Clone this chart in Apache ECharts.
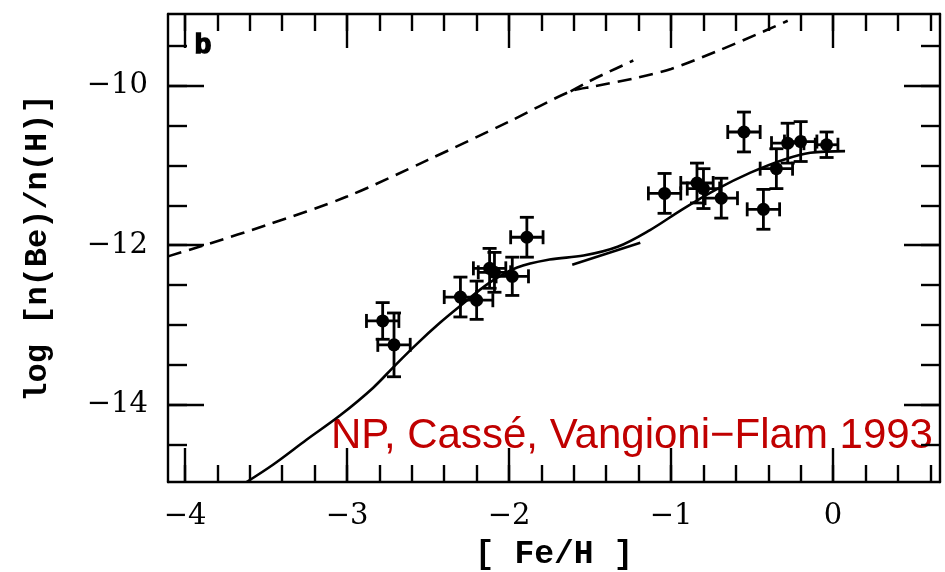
<!DOCTYPE html>
<html>
<head>
<meta charset="utf-8">
<script src="https://cdn.jsdelivr.net/npm/echarts@6/dist/echarts.min.js"></script>
<style>
  html, body { margin: 0; padding: 0; background: #fff; }
  #chart { width: 945px; height: 572px; }
</style>
</head>
<body>
<div id="chart"></div>
<script>
// Axis extents
const X_MIN = -4.105, X_MAX = 0.66;
const Y_MIN = -14.97, Y_MAX = -9.1;

// Tick positions and labels
const xMajorTicks = [-4, -3, -2, -1, 0];
const xMinorTicks = [-4.0, -3.8, -3.6, -3.4, -3.2, -3.0, -2.8, -2.6, -2.4, -2.2, -2.0,
                     -1.8, -1.6, -1.4, -1.2, -1.0, -0.8, -0.6, -0.4, -0.2, 0.0, 0.2, 0.4, 0.6];
const yMajorTicks = [-14, -12, -10];
const yMinorTicks = [-14.5, -14, -13.5, -13, -12.5, -12, -11.5, -11, -10.5, -10, -9.5];

// Stellar Be abundances: [Fe/H], log n(Be)/n(H), x error, y error
const starFeH   = [-2.78, -2.71, -2.30, -2.20, -2.12, -2.09, -1.98, -1.89,
                   -1.04, -0.84, -0.80, -0.69, -0.55, -0.43, -0.35, -0.28, -0.20, -0.04];
const starBe    = [-12.95, -13.25, -12.65, -12.69, -12.29, -12.34, -12.39, -11.90,
                   -11.35, -11.22, -11.29, -11.41, -10.58, -11.55, -11.04, -10.72, -10.70, -10.74];
const starErrX  = [0.10, 0.10, 0.10, 0.10, 0.10, 0.10, 0.10, 0.10,
                   0.10, 0.10, 0.10, 0.10, 0.10, 0.10, 0.10, 0.10, 0.10, 0.07];
const starErrY  = [0.23, 0.40, 0.25, 0.24, 0.25, 0.25, 0.24, 0.25,
                   0.25, 0.25, 0.25, 0.25, 0.25, 0.25, 0.25, 0.25, 0.25, 0.16];

// Model curves
const dashedMain = [[-4.105, -12.14], [-3.85, -11.98], [-3.5, -11.75], [-3.0, -11.39],
                    [-2.5, -10.93], [-2.0, -10.45], [-1.62, -10.07], [-1.48, -10.01],
                    [-1.21, -9.90], [-1.0, -9.79], [-0.72, -9.57], [-0.43, -9.32], [-0.28, -9.185]];
const dashedBranch = [[-1.62, -10.07], [-1.52, -9.96], [-1.42, -9.86], [-1.233, -9.683]];
const solidMain = [[-3.62, -14.97], [-3.455, -14.75], [-3.25, -14.44], [-3.04, -14.13],
                   [-2.84, -13.79], [-2.70, -13.50], [-2.57, -13.24], [-2.43, -12.98],
                   [-2.30, -12.76], [-2.12, -12.47], [-1.95, -12.28], [-1.75, -12.18],
                   [-1.54, -12.13], [-1.33, -12.02], [-1.13, -11.81], [-0.93, -11.55],
                   [-0.72, -11.30], [-0.51, -11.09], [-0.31, -10.93], [-0.14, -10.84],
                   [0.074, -10.82]];
const solidShort = [[-1.61, -12.245], [-1.19, -11.97]];

const ink = '#000';
const minusFmt = v => (v < 0 ? '\u2212' + Math.abs(v) : String(v));

const starData = starFeH.map((x, i) => [x, starBe[i], starErrX[i], starErrY[i]]);

function frameAxis(pos, values, len, withLine) {
  const horizontal = pos === 'top' || pos === 'bottom';
  return {
    type: 'value',
    min: horizontal ? X_MIN : Y_MIN,
    max: horizontal ? X_MAX : Y_MAX,
    position: pos,
    axisLine: { show: withLine, onZero: false, lineStyle: { color: ink, width: 2.4 } },
    axisTick: { show: true, inside: true, length: len, customValues: values,
                lineStyle: { color: ink, width: 2.4 } },
    axisLabel: { show: false, customValues: values },
    splitLine: { show: false }
  };
}

const xBottom = frameAxis('bottom', xMajorTicks, 34, true);
xBottom.axisLabel = {
  show: true, customValues: xMajorTicks, formatter: minusFmt, margin: 20,
  fontFamily: 'DejaVu Serif', fontSize: 29, color: ink
};
xBottom.name = '[ Fe/H ]';
xBottom.nameLocation = 'middle';
xBottom.nameGap = 56;
xBottom.nameTextStyle = { fontFamily: 'Liberation Mono', fontWeight: 'bold', fontSize: 33, color: ink };

const yLeft = frameAxis('left', yMajorTicks, 36, true);
yLeft.axisLabel = {
  show: true, customValues: yMajorTicks, formatter: minusFmt, margin: 20,
  fontFamily: 'DejaVu Serif', fontSize: 29, color: ink
};
yLeft.name = 'log [n(Be)/n(H)]';
yLeft.nameLocation = 'middle';
yLeft.nameRotate = 90;
yLeft.nameGap = 114;
yLeft.nameTextStyle = { fontFamily: 'Liberation Mono', fontWeight: 'bold', fontSize: 32, color: ink };

const chart = echarts.init(document.getElementById('chart'), null, { renderer: 'canvas' });

chart.setOption({
  animation: false,
  backgroundColor: '#fff',
  grid: { left: 168, right: 5, top: 14, bottom: 90, containLabel: false, outerBoundsMode: 'none' },
  xAxis: [
    xBottom,
    frameAxis('bottom', xMinorTicks, 17, false),
    frameAxis('top', xMajorTicks, 34, true),
    frameAxis('top', xMinorTicks, 17, false)
  ],
  yAxis: [
    yLeft,
    frameAxis('left', yMinorTicks, 19, false),
    frameAxis('right', yMajorTicks, 36, true),
    frameAxis('right', yMinorTicks, 19, false)
  ],
  graphic: [
    {
      type: 'text', left: 194, top: 31,
      style: { text: 'b', fontFamily: 'Liberation Sans', fontWeight: 'bold', fontSize: 27,
               fill: ink, stroke: ink, lineWidth: 1.6 }
    },
    {
      type: 'text', left: 331, top: 415,
      style: { text: 'NP, Cassé, Vangioni\u2212Flam 1993', fontFamily: 'Liberation Sans',
               fontSize: 42, fill: '#C00000' }
    }
  ],
  series: [
    {
      type: 'line', data: dashedMain, smooth: 0.3, showSymbol: false, silent: true,
      lineStyle: { color: ink, width: 2.6, type: [14, 8] }
    },
    {
      type: 'line', data: dashedBranch, smooth: 0.3, showSymbol: false, silent: true,
      lineStyle: { color: ink, width: 2.6, type: [14, 8] }
    },
    {
      type: 'line', data: solidMain, smooth: 0.35, showSymbol: false, silent: true,
      lineStyle: { color: ink, width: 2.6 }
    },
    {
      type: 'line', data: solidShort, showSymbol: false, silent: true,
      lineStyle: { color: ink, width: 2.6 }
    },
    {
      type: 'custom', data: starData, silent: true,
      encode: { x: 0, y: 1 },
      renderItem: function (params, api) {
        const x = api.value(0), y = api.value(1), ex = api.value(2), ey = api.value(3);
        const c = api.coord([x, y]);
        const l = api.coord([x - ex, y]), r = api.coord([x + ex, y]);
        const t = api.coord([x, y + ey]), b = api.coord([x, y - ey]);
        const cap = 7;
        const st = { stroke: ink, lineWidth: 2.8 };
        const seg = (x1, y1, x2, y2) => ({ type: 'line', shape: { x1, y1, x2, y2 }, style: st });
        return {
          type: 'group',
          children: [
            seg(l[0], l[1], r[0], r[1]),
            seg(t[0], t[1], b[0], b[1]),
            seg(l[0], l[1] - cap, l[0], l[1] + cap),
            seg(r[0], r[1] - cap, r[0], r[1] + cap),
            seg(t[0] - cap, t[1], t[0] + cap, t[1]),
            seg(b[0] - cap, b[1], b[0] + cap, b[1]),
            { type: 'circle', shape: { cx: c[0], cy: c[1], r: 6.5 }, style: { fill: ink } }
          ]
        };
      }
    }
  ]
});
</script>
</body>
</html>
